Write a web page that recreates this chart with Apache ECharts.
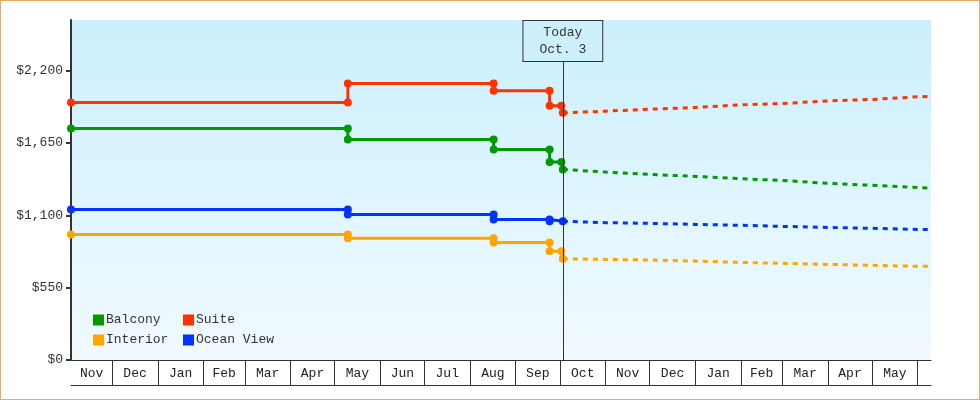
<!DOCTYPE html>
<html>
<head>
<meta charset="utf-8">
<script src="https://cdn.jsdelivr.net/npm/echarts@6/dist/echarts.min.js"></script>
<style>
html,body{margin:0;padding:0;background:#fff;}
#wrap{position:relative;width:980px;height:400px;}
#chart{width:980px;height:400px;}
#frame{position:absolute;left:0;top:0;width:980px;height:400px;box-sizing:border-box;border:1px solid #e9aa66;pointer-events:none;}
</style>
</head>
<body>
<div id="wrap"><div id="chart"></div><div id="frame"></div></div>
<script>
// ---- data ----
const axisStart = '2021-11-03';
const axisEnd = '2023-06-10';
const today = '2022-10-03';
const todayLabel = 'Today\nOct. 3';

const monthBoundaries = ['2021-12-01','2022-01-01','2022-02-01','2022-03-01','2022-04-01','2022-05-01','2022-06-01','2022-07-01','2022-08-01','2022-09-01','2022-10-01','2022-11-01','2022-12-01','2023-01-01','2023-02-01','2023-03-01','2023-04-01','2023-05-01','2023-06-01'];
const monthNames = ['Nov','Dec','Jan','Feb','Mar','Apr','May','Jun','Jul','Aug','Sep','Oct','Nov','Dec','Jan','Feb','Mar','Apr','May'];

const yTicks = [0, 550, 1100, 1650, 2200];
const yMax = 2585;

const historyDates = ['2021-11-03','2022-05-10','2022-05-10','2022-08-17','2022-08-17','2022-09-24','2022-09-24','2022-10-02','2022-10-03'];
const balconyHist  = [1761, 1761, 1677, 1677, 1601, 1601, 1505, 1505, 1449];
const suiteHist    = [1958, 1958, 2103, 2103, 2047, 2047, 1933, 1933, 1879];
const interiorHist = [955, 955, 925, 925, 894, 894, 827, 827, 769];
const oceanHist    = [1145, 1145, 1107, 1107, 1069, 1069, 1055, null, 1055];

const forecastDates = ['2022-10-03','2022-11-01','2022-12-01','2023-01-01','2023-02-01','2023-03-01','2023-04-01','2023-05-01','2023-06-01','2023-06-10'];
const balconyFc  = [1449, 1429, 1411, 1396, 1378, 1365, 1343, 1328, 1312, 1305];
const suiteFc    = [1879, 1892, 1907, 1920, 1940, 1950, 1970, 1981, 2001, 2004];
const interiorFc = [769, 765, 760, 752, 742, 735, 727, 720, 712, 712];
const oceanFc    = [1055, 1044, 1039, 1031, 1024, 1016, 1008, 1001, 993, 993];

const seriesNames = ['Balcony', 'Suite', 'Interior', 'Ocean View'];
const seriesColors = ['#009900', '#ff3300', '#ffa500', '#0033ff'];

// ---- build ----
const ts = d => Date.parse(d);
const FONT = '"Liberation Mono", monospace';
const xMin = ts(axisStart), xMax = ts(axisEnd);
const bounds = [xMin].concat(monthBoundaries.map(ts));
const labelPos = [];
const labelText = {};
for (let i = 0; i < monthNames.length; i++) {
  const m = (bounds[i] + bounds[i + 1]) / 2;
  labelPos.push(m);
  labelText[m] = monthNames[i];
}
const pair = (dates, vals) => dates.map((d, i) => [ts(d), vals[i]]);

const hist = [balconyHist, suiteHist, interiorHist, oceanHist];
const fc = [balconyFc, suiteFc, interiorFc, oceanFc];

const series = [];
seriesNames.forEach((name, i) => {
  series.push({
    name, type: 'line', xAxisIndex: 0,
    data: pair(historyDates, hist[i]),
    connectNulls: true,
    symbol: 'circle', symbolSize: 8, showAllSymbol: true,
    itemStyle: { color: seriesColors[i] },
    lineStyle: { color: seriesColors[i], width: 3 },
    emphasis: { disabled: true },
    animation: false, z: 3
  });
});
seriesNames.forEach((name, i) => {
  series.push({
    name, type: 'line', xAxisIndex: 0,
    data: pair(forecastDates, fc[i]),
    showSymbol: false,
    itemStyle: { color: seriesColors[i] },
    lineStyle: { color: seriesColors[i], width: 3, type: [5, 5], cap: 'butt' },
    emphasis: { disabled: true },
    animation: false, z: 2
  });
});
series[0].markLine = {
  silent: true, symbol: 'none', animation: false,
  lineStyle: { color: '#333', width: 1, type: 'solid' },
  label: {
    show: true, position: 'end', distance: -41,
    formatter: todayLabel,
    fontFamily: FONT, fontSize: 13, color: '#333', lineHeight: 17,
    padding: [3, 16, 3, 16],
    backgroundColor: '#cdf0fc', borderColor: '#333', borderWidth: 1
  },
  data: [{ xAxis: ts(today) }]
};

const chart = echarts.init(document.getElementById('chart'), null, { renderer: 'canvas' });
chart.setOption({
  animation: false,
  grid: {
    left: 71, right: 49, top: 20, bottom: 40, show: true, borderWidth: 0,
    backgroundColor: new echarts.graphic.LinearGradient(0, 0, 0, 1, [
      { offset: 0, color: '#cbf0fd' },
      { offset: 1, color: '#f1faff' }
    ])
  },
  legend: {
    data: seriesNames,
    left: 93, top: 310, width: 185, padding: 0,
    orient: 'horizontal',
    itemWidth: 11, itemHeight: 11, itemGap: 0,
    icon: 'rect',
    selectedMode: false,
    textStyle: { fontFamily: FONT, fontSize: 13, color: '#333', width: 77, lineHeight: 20, padding: [0, 0, 0, -3] }
  },
  xAxis: [{
    type: 'value', min: xMin, max: xMax,
    axisLine: { show: true, lineStyle: { color: '#333', width: 1 } },
    axisTick: { show: true, customValues: monthBoundaries.map(ts), length: 25, lineStyle: { color: '#333', width: 1 } },
    axisLabel: {
      show: true, customValues: labelPos, margin: 7,
      formatter: v => labelText[v] || '',
      fontFamily: FONT, fontSize: 13, color: '#222'
    },
    splitLine: { show: false }
  }, {
    type: 'value', min: xMin, max: xMax, position: 'bottom', offset: 25,
    axisLine: { show: true, lineStyle: { color: '#333', width: 1 } },
    axisTick: { show: false }, axisLabel: { show: false }, splitLine: { show: false }
  }],
  yAxis: {
    type: 'value', min: 0, max: yMax, interval: 550,
    axisLine: { show: true, lineStyle: { color: '#333', width: 2 } },
    axisTick: { show: true, customValues: yTicks, length: 5, lineStyle: { color: '#333', width: 2 } },
    axisLabel: {
      customValues: yTicks, margin: 8,
      formatter: v => '$' + Number(v).toLocaleString('en-US'),
      fontFamily: FONT, fontSize: 13, color: '#333'
    },
    splitLine: { show: false }
  },
  series
});
</script>
</body>
</html>
